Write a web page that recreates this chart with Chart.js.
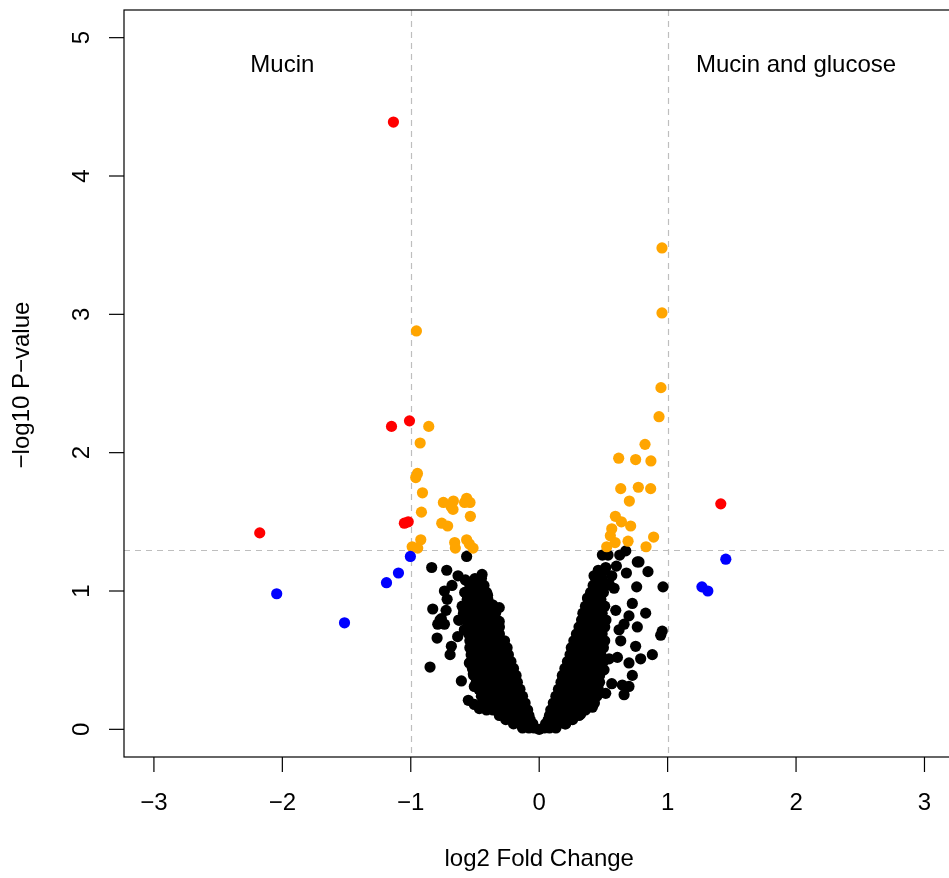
<!DOCTYPE html>
<html>
<head>
<meta charset="utf-8">
<script src="https://cdn.jsdelivr.net/npm/chart.js@4.4.1/dist/chart.umd.min.js"></script>
<style>
  html, body { margin: 0; padding: 0; background: #fff; overflow: hidden; }
  #wrap { width: 960px; height: 878px; }
</style>
</head>
<body>
<div id="wrap"><canvas id="volcano" width="960" height="878"></canvas></div>
<script>
// significant + fold change > 1 (red)
const redPts = [
    [-1.135, 4.39], [-1.15, 2.19], [-1.01, 2.23], [-2.176, 1.42],
    [-1.05, 1.49], [-1.02, 1.50], [1.414, 1.63],
];
// not significant, fold change > 1 (blue)
const bluePts = [
    [-2.044, 0.98], [-1.516, 0.77], [-1.189, 1.06], [-1.096, 1.13],
    [-1.003, 1.25], [1.267, 1.03], [1.313, 1.00], [1.453, 1.23],
];
// significant, fold change < 1 (orange)
const orangePts = [
    [-0.956, 2.88], [-0.86, 2.19], [-0.927, 2.07], [-0.948, 1.85], [-0.961, 1.82],
    [-0.909, 1.71], [-0.917, 1.57], [-0.746, 1.64], [-0.668, 1.65], [-0.686, 1.61],
    [-0.671, 1.59], [-0.565, 1.67], [-0.539, 1.64], [-0.581, 1.64], [-0.536, 1.54],
    [-0.759, 1.49], [-0.713, 1.47], [-0.922, 1.37], [-0.989, 1.32], [-0.946, 1.31],
    [-0.658, 1.35], [-0.653, 1.31], [-0.565, 1.37], [-0.544, 1.34], [-0.515, 1.31],
    [0.956, 3.48], [0.956, 3.01], [0.948, 2.47], [0.933, 2.26], [0.824, 2.06],
    [0.619, 1.96], [0.751, 1.95], [0.870, 1.94], [0.635, 1.74], [0.772, 1.75],
    [0.868, 1.74], [0.702, 1.65], [0.593, 1.54], [0.640, 1.50], [0.712, 1.47],
    [0.565, 1.45], [0.554, 1.40], [0.591, 1.35], [0.692, 1.36], [0.891, 1.39],
    [0.832, 1.32], [0.526, 1.32],
];
// not significant (black): dense rows of the two arms, y then x values
const blackRows = [
    [0.00, [0.0]],
    [0.01, [-0.13, -0.08, -0.04, 0.04, 0.08, 0.13]],
    [0.04, [-0.2, -0.15, -0.1, -0.05, 0.05, 0.1, 0.15, 0.2]],
    [0.07, [-0.26, -0.21, -0.16, -0.11, -0.07, 0.07, 0.12, 0.17, 0.22, 0.26]],
    [0.10, [-0.31, -0.26, -0.21, -0.16, -0.11, -0.08, 0.08, 0.13, 0.18, 0.23, 0.28, 0.31]],
    [0.14, [-0.41, -0.36, -0.3, -0.25, -0.2, -0.14, -0.09, 0.09, 0.14, 0.2, 0.25, 0.3, 0.36]],
    [0.19, [-0.44, -0.38, -0.33, -0.27, -0.22, -0.16, -0.11, 0.11, 0.16, 0.22, 0.27, 0.33, 0.38, 0.43]],
    [0.24, [-0.45, -0.4, -0.34, -0.29, -0.23, -0.18, -0.13, 0.13, 0.18, 0.24, 0.29, 0.34, 0.4, 0.45]],
    [0.29, [-0.47, -0.41, -0.36, -0.3, -0.25, -0.2, -0.15, 0.15, 0.2, 0.25, 0.31, 0.36, 0.41, 0.46]],
    [0.34, [-0.49, -0.43, -0.37, -0.32, -0.27, -0.21, -0.17, 0.17, 0.22, 0.27, 0.32, 0.37, 0.42, 0.47]],
    [0.39, [-0.51, -0.45, -0.39, -0.34, -0.28, -0.23, -0.18, 0.18, 0.23, 0.28, 0.33, 0.38, 0.43, 0.47]],
    [0.44, [-0.52, -0.46, -0.4, -0.35, -0.3, -0.25, -0.2, 0.2, 0.25, 0.3, 0.35, 0.4, 0.45, 0.49]],
    [0.49, [-0.53, -0.47, -0.41, -0.36, -0.31, -0.26, -0.22, 0.22, 0.27, 0.32, 0.37, 0.42, 0.46, 0.5]],
    [0.54, [-0.53, -0.48, -0.42, -0.37, -0.32, -0.28, -0.24, 0.24, 0.29, 0.34, 0.39, 0.44, 0.48]],
    [0.59, [-0.54, -0.48, -0.43, -0.38, -0.33, -0.29, -0.25, 0.25, 0.3, 0.35, 0.4, 0.45, 0.5]],
    [0.64, [-0.54, -0.49, -0.44, -0.39, -0.34, -0.3, -0.27, 0.27, 0.32, 0.37, 0.42, 0.47, 0.51]],
    [0.69, [-0.55, -0.5, -0.45, -0.4, -0.35, -0.31, 0.29, 0.34, 0.39, 0.44, 0.49]],
    [0.74, [-0.56, -0.51, -0.46, -0.41, -0.36, -0.31, 0.31, 0.36, 0.41, 0.46, 0.51]],
    [0.79, [-0.57, -0.52, -0.47, -0.42, -0.37, -0.33, 0.33, 0.38, 0.43, 0.48, 0.52]],
    [0.84, [-0.59, -0.53, -0.48, -0.43, -0.38, -0.34, 0.34, 0.39, 0.44, 0.49]],
    [0.89, [-0.6, -0.54, -0.49, -0.44, -0.39, -0.36, 0.36, 0.41, 0.46, 0.51]],
    [0.94, [-0.56, -0.5, -0.45, -0.4, 0.38, 0.43, 0.48]],
    [0.99, [-0.58, -0.52, -0.46, -0.41, 0.4, 0.45, 0.5]],
    [1.04, [-0.54, -0.48, -0.43, 0.42, 0.47, 0.52]],
    [1.09, [-0.5, -0.45, 0.44, 0.49]],
    [1.15, [0.46, 0.51]],
];
// black points scattered outside the two arms
const blackOutliers = [
    [-0.837, 1.17], [-0.72, 1.15], [-0.632, 1.11], [-0.575, 1.08], [-0.445, 1.12],
    [-0.565, 1.25], [-0.679, 1.04], [-0.738, 1.00], [-0.492, 1.05], [-0.717, 0.94],
    [-0.829, 0.87], [-0.725, 0.86], [-0.762, 0.80], [-0.79, 0.76], [-0.738, 0.76],
    [-0.627, 0.79], [-0.795, 0.66], [-0.684, 0.60], [-0.694, 0.54], [-0.85, 0.45],
    [-0.606, 0.35], [-0.552, 0.21], [-0.505, 0.18], [-0.466, 0.15], [-0.414, 0.15],
    [-0.311, 0.88], [-0.363, 0.90], [-0.41, 0.98], [-0.466, 1.00], [-0.259, 0.11],
    [-0.557, 0.88], [-0.583, 0.72], [-0.635, 0.67], [-0.544, 0.48], [-0.513, 0.40],
    [-0.505, 0.31], [-0.518, 1.05], [-0.472, 1.04], [-0.402, 0.97], [-0.772, 0.79],
    [-0.311, 0.78], [-0.375, 0.88], [-0.622, 0.79], [-0.583, 0.86],
    [0.492, 1.26], [0.536, 1.26], [0.674, 1.29], [0.627, 1.26], [0.777, 1.21],
    [0.847, 1.14], [0.518, 1.17], [0.601, 1.18], [0.679, 1.13], [0.427, 1.11],
    [0.565, 1.11], [0.759, 1.03], [0.964, 1.03], [0.583, 1.02], [0.376, 0.95],
    [0.725, 0.91], [0.829, 0.84], [0.699, 0.82], [0.764, 0.74], [0.958, 0.71],
    [0.946, 0.68], [0.635, 0.64], [0.751, 0.60], [0.79, 0.51], [0.881, 0.54],
    [0.544, 0.51], [0.699, 0.48], [0.725, 0.39], [0.565, 0.33], [0.647, 0.32],
    [0.699, 0.31], [0.661, 0.25], [0.414, 0.16], [0.324, 0.11], [0.207, 0.04],
    [0.518, 0.26], [0.622, 0.72], [0.661, 0.76], [0.596, 0.86], [0.544, 1.05],
    [0.44, 0.91], [0.505, 0.43], [0.609, 0.52], [0.764, 1.21],
];

const xTicks = [-3, -2, -1, 0, 1, 2, 3];
const yTicks = [0, 1, 2, 3, 4, 5];
const vCutoffs = [-1, 1];
const hCutoff = 1.3;
const groupLabels = [
    { x: -2, y: 4.8, text: 'Mucin' },
    { x: 2, y: 4.8, text: 'Mucin and glucose' },
];

function toXY(list) {
    return list.map(function (p) { return { x: p[0], y: p[1] }; });
}

function rowsToXY(rows) {
    const out = [];
    rows.forEach(function (r) {
        r[1].forEach(function (x) { out.push({ x: x, y: r[0] }); });
    });
    return out;
}

const FONT = "24px 'Liberation Sans', Arial, Helvetica, sans-serif";
const minus = function (v) { return v < 0 ? '\u2212' + Math.abs(v) : String(v); };

const rPlot = {
    id: 'rPlot',
    beforeDatasetsDraw(chart) {
        const ctx = chart.ctx;
        const a = chart.chartArea;
        const sx = chart.scales.x;
        const sy = chart.scales.y;
        ctx.save();
        ctx.strokeStyle = '#bebebe';
        ctx.lineWidth = 1.2;
        ctx.setLineDash([6, 5]);
        vCutoffs.forEach(function (v) {
            const px = Math.round(sx.getPixelForValue(v)) + 0.5;
            ctx.beginPath();
            ctx.moveTo(px, a.top);
            ctx.lineTo(px, a.bottom);
            ctx.stroke();
        });
        const py = Math.round(sy.getPixelForValue(hCutoff)) + 0.5;
        ctx.beginPath();
        ctx.moveTo(a.left, py);
        ctx.lineTo(a.right, py);
        ctx.stroke();
        ctx.restore();
    },
    afterDraw(chart) {
        const ctx = chart.ctx;
        const a = chart.chartArea;
        const sx = chart.scales.x;
        const sy = chart.scales.y;
        ctx.save();
        ctx.strokeStyle = '#000';
        ctx.lineWidth = 1.2;
        ctx.setLineDash([]);
        ctx.strokeRect(a.left, a.top, a.right - a.left, a.bottom - a.top);

        ctx.fillStyle = '#000';
        ctx.font = FONT;
        ctx.textAlign = 'center';
        ctx.textBaseline = 'middle';

        // x axis ticks + labels
        xTicks.forEach(function (v) {
            const px = sx.getPixelForValue(v);
            ctx.beginPath();
            ctx.moveTo(px, a.bottom);
            ctx.lineTo(px, a.bottom + 15);
            ctx.stroke();
            ctx.fillText(minus(v), px, a.bottom + 46);
        });

        // y axis ticks + rotated labels
        yTicks.forEach(function (v) {
            const py = sy.getPixelForValue(v);
            ctx.beginPath();
            ctx.moveTo(a.left, py);
            ctx.lineTo(a.left - 15, py);
            ctx.stroke();
            ctx.save();
            ctx.translate(a.left - 42, py);
            ctx.rotate(-Math.PI / 2);
            ctx.fillText(String(v), 0, 0);
            ctx.restore();
        });

        // axis titles
        ctx.fillText('log2 Fold Change', sx.getPixelForValue(0), a.bottom + 102);
        ctx.save();
        ctx.translate(a.left - 102, 385);
        ctx.rotate(-Math.PI / 2);
        ctx.fillText('\u2212log10 P\u2212value', 0, 0);
        ctx.restore();

        // group labels
        groupLabels.forEach(function (g) {
            ctx.fillText(g.text, sx.getPixelForValue(g.x), sy.getPixelForValue(g.y));
        });
        ctx.restore();
    },
};

const pointStyle = { pointRadius: 5.6, pointHoverRadius: 5.6, borderWidth: 0, showLine: false };

new Chart(document.getElementById('volcano'), {
    type: 'scatter',
    data: {
        datasets: [
            Object.assign({ data: rowsToXY(blackRows).concat(toXY(blackOutliers)), backgroundColor: '#000', order: 4 }, pointStyle),
            Object.assign({ data: toXY(orangePts), backgroundColor: '#ffa500', order: 3 }, pointStyle),
            Object.assign({ data: toXY(redPts), backgroundColor: '#ff0000', order: 2 }, pointStyle),
            Object.assign({ data: toXY(bluePts), backgroundColor: '#0000ff', order: 1 }, pointStyle),
        ],
    },
    options: {
        responsive: false,
        animation: false,
        devicePixelRatio: 1,
        layout: { padding: { left: 124, top: 10, right: 4, bottom: 121 } },
        plugins: { legend: { display: false }, tooltip: { enabled: false } },
        scales: {
            x: { type: 'linear', min: -3.233, max: 3.233, display: false },
            y: { type: 'linear', min: -0.2, max: 5.2, display: false },
        },
    },
    plugins: [rPlot],
});
</script>
</body>
</html>
